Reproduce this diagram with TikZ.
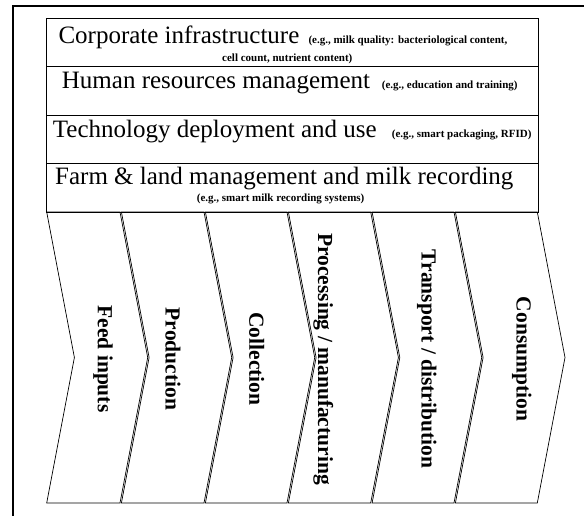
\documentclass[tikz,border=0pt]{standalone}
\usepackage{fontspec}
\setmainfont{Liberation Serif}
\begin{document}
\begin{tikzpicture}[x=1pt, y=-1pt,
  band/.style = {draw, line width=0.8pt, minimum width=492pt, inner sep=0pt},
  big/.style = {anchor=base west, inner sep=0pt,
    font=\fontsize{25}{28}\selectfont},
  small/.style = {anchor=base west, inner sep=0pt,
    font=\fontsize{11}{13}\selectfont\bfseries},
  stage/.style = {rotate=-90, inner sep=0pt,
    font=\fontsize{21.5}{24}\selectfont\bfseries},
  chev/.style = {draw, line width=0.7pt, line join=miter}]
  \useasboundingbox (0,0) rectangle (584,516);
  % outer frame (cut by the page)
  \draw[line width=1.2pt] (13,530) -- (13,6) -- (600,6);

  % support activities
  \node[band, minimum height=48pt] (corp) at (292.7,42) {};
  \node[band, minimum height=49pt] (hrm) at (292.7,90.5) {};
  \node[band, minimum height=48pt] (tech) at (292.7,139) {};
  \node[band, minimum height=49pt] (farm) at (292.7,187.5) {};

  \node[big] (corpT) at (58.3,43.3) {Corporate infrastructure};
  \node[small] (corpA) at (308.3,43.3) {(e.g., milk quality: bacteriological content,};
  \node[small] (corpB) at (222,61.7) {cell count, nutrient content)};
  \node[big] (hrmT) at (61.7,88.3) {Human resources management};
  \node[small] (hrmA) at (381.7,88.3) {(e.g., education and training)};
  \node[big] (techT) at (52.7,137.3) {Technology deployment and use};
  \node[small] (techA) at (391.7,137.3) {(e.g., smart packaging, RFID)};
  \node[big] (farmT) at (55,185) {Farm \& land management and milk recording};
  \node[small] (farmA) at (196.7,201.5) {(e.g., smart milk recording systems)};

  % primary activities
  \foreach \a/\b in {46.7/120, 121.4/204, 205.4/287, 288.4/370.7,
                     372.1/454, 455.4/537.3}
    \draw[chev] (\a,212) -- (\b,212) -- (\b+27.7,357.5) -- (\b,503)
      -- (\a,503) -- (\a+27.7,357.5) -- cycle;

  \node[stage] (feed) at (103,359) {Feed inputs};
  \node[stage] (prod) at (173,359) {Production};
  \node[stage] (coll) at (256.7,359) {Collection};
  \node[stage] (proc) at (323.3,359) {Processing / manufacturing};
  \node[stage] (trans) at (426.7,359) {Transport / distribution};
  \node[stage] (cons) at (521.7,359) {Consumption};
\end{tikzpicture}
\end{document}
